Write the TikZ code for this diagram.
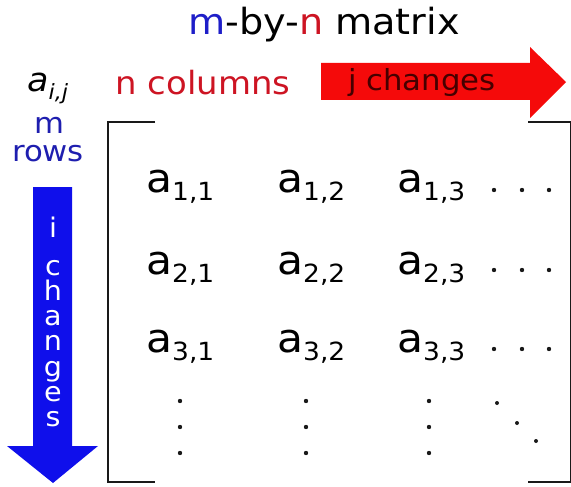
\documentclass[tikz,border=0pt]{standalone}
\usepackage{fontspec}
\setmainfont{DejaVu Sans}[FakeStretch=1.06, ItalicFont={DejaVu Sans Oblique}]

\definecolor{titleblue}{RGB}{30,30,200}
\definecolor{labelblue}{RGB}{30,30,175}
\definecolor{labelred}{RGB}{205,20,35}
\definecolor{arrowred}{RGB}{245,10,10}
\definecolor{arrowblue}{RGB}{15,15,235}
\definecolor{jtext}{RGB}{70,0,0}

\tikzset{
    entry/.style={anchor=base west, inner sep=0pt, font=\fontsize{40}{40}\selectfont},
    bracket/.style={line width=2.6pt, draw=black!90},
    matdot/.style={fill=black!90}
}
\newcommand{\elem}[2]{a\raisebox{-8pt}{\fontsize{25}{25}\selectfont #1,#2}}

\begin{document}
\begin{tikzpicture}[x=1pt, y=-1pt]
    \useasboundingbox (0,0) rectangle (571,487);

    \node[anchor=base, inner sep=0pt, font=\fontsize{36}{36}\selectfont] (title) at (324,35)
        {\textcolor{titleblue}{m}-by-\textcolor{labelred}{n} matrix};
    \node[anchor=base west, inner sep=0pt, font=\fontsize{33}{33}\selectfont\itshape] (aij) at (27,92)
        {a\raisebox{-8pt}{\fontsize{21}{21}\selectfont i,j}};
    \node[anchor=base, inner sep=0pt, text=labelred, font=\fontsize{32}{32}\selectfont] (ncols) at (203,95) {n columns};
    \node[anchor=base, inner sep=0pt, text=labelblue, font=\fontsize{29}{29}\selectfont] (mlabel) at (49,134) {m};
    \node[anchor=base, inner sep=0pt, text=labelblue, font=\fontsize{29}{29}\selectfont] (rowslabel) at (48,161) {rows};

    % the two arrows
    \fill[arrowred] (321,63) -- (530,63) -- (530,47) -- (566,82) -- (530,118) -- (530,100) -- (321,100) -- cycle;
    \node[anchor=base, inner sep=0pt, text=jtext, font=\fontsize{29}{29}\selectfont] (jchg) at (422,91) {j changes};

    \fill[arrowblue] (33,187) -- (72,187) -- (72,446) -- (98,446) -- (53,483) -- (7,446) -- (33,446) -- cycle;
    \node[anchor=base, inner sep=0pt, text=white, font=\fontsize{27}{27}\selectfont] (ichg) at (53,237) {i};
    \foreach \ch [count=\k from 0] in {c,h,a,n,g,e,s}
        \node[anchor=base, inner sep=0pt, text=white, font=\fontsize{27}{27}\selectfont] (ichg\k) at (53,275+25.3*\k) {\ch};

    % brackets
    \draw[bracket] (155,122) -- (108,122) -- (108,482) -- (155,482);
    \draw[bracket] (528,122) -- (571,122) -- (571,482) -- (528,482);

    % entries
    \foreach \i/\y in {1/193, 2/274, 3/352}
        \foreach \j/\x in {1/146, 2/277, 3/397}
            \node[entry] (e\i\j) at (\x,\y) {\elem{\i}{\j}};

    % dots
    \foreach \y in {190, 270, 349}
        \foreach \x in {494, 522, 549}
            \fill[matdot] (\x,\y) circle (2.2);
    \foreach \x in {180, 306, 429}
        \foreach \y in {401, 427, 453}
            \fill[matdot] (\x,\y) circle (2.2);
    \foreach \x/\y in {497/403, 517/423, 536/441}
        \fill[matdot] (\x,\y) circle (2);
\end{tikzpicture}
\end{document}
